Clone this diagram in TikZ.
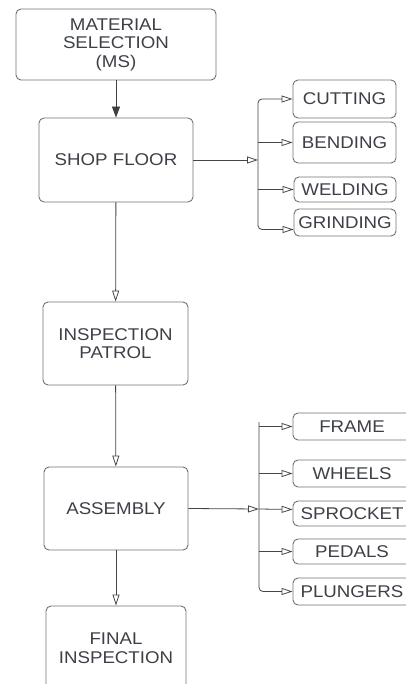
\documentclass[tikz,border=0pt]{standalone}
\usepackage{fontspec}
\setmainfont{Liberation Sans}[FakeStretch=1.1]
\usetikzlibrary{arrows.meta}
\definecolor{gris}{HTML}{707070}
\definecolor{oscuro}{HTML}{454545}
\definecolor{texto}{HTML}{3D4047}

\begin{document}
\begin{tikzpicture}[x=1pt, y=-1pt,
    caja/.style={draw=gris, rounded corners=5pt, line width=0.9pt, align=center,
        text=texto, inner sep=1pt, font=\fontsize{17}{18.5}\selectfont},
    linea/.style={draw=oscuro, line width=0.8pt},
    punta/.style={-{Triangle[open, length=11pt, width=7pt]}},
    llena/.style={-{Triangle[length=11pt, width=8pt]}}]

                \useasboundingbox (0,0) rectangle (406,684);

                % Cajas principales
                \node[caja, minimum width=200pt, minimum height=71pt] (ms) at (116,44.5) {MATERIAL\\SELECTION\\(MS)};
                \node[caja, minimum width=154pt, minimum height=84pt] (shop) at (116,160) {SHOP FLOOR};
                \node[caja, minimum width=145pt, minimum height=83pt] (patrol) at (115.5,343.5) {INSPECTION\\PATROL};
                \node[caja, minimum width=144pt, minimum height=83pt] (assembly) at (116,508.5) {ASSEMBLY};
                \node[caja, minimum width=140pt, minimum height=84pt] (final) at (116,648) {FINAL\\INSPECTION};

                % Operaciones del taller
                \node[caja, minimum width=103pt, minimum height=38pt] (cutting) at (344.5,99) {CUTTING};
                \node[caja, minimum width=103pt, minimum height=41pt] (bending) at (344.5,142.5) {BENDING};
                \node[caja, minimum width=102pt, minimum height=25pt] (welding) at (345,189.5) {WELDING};
                \node[caja, minimum width=102pt, minimum height=27pt] (grinding) at (345,222.5) {GRINDING};

                % Piezas del ensamble
                \node[caja, minimum width=118pt, minimum height=27pt] (frame) at (352,426.5) {FRAME};
                \node[caja, minimum width=118pt, minimum height=27pt] (wheels) at (352,473.5) {WHEELS};
                \node[caja, minimum width=118pt, minimum height=25pt] (sprocket) at (352,513.5) {SPROCKET};
                \node[caja, minimum width=118pt, minimum height=25pt] (pedals) at (352,551.5) {PEDALS};
                \node[caja, minimum width=118pt, minimum height=27pt] (plungers) at (352,591.5) {PLUNGERS};

                % Flujo vertical
                \draw[linea, llena, draw=black!75, fill=black!75] (ms) -- (shop);
                \draw[linea, punta] (shop) -- (patrol);
                \draw[linea, punta] (patrol) -- (assembly);
                \draw[linea, punta] (assembly) -- (final);

                % Bus del taller
                \coordinate (bus1) at (258,160);
                \draw[linea, punta] (shop.east) -- (bus1);
                \draw[linea, punta, rounded corners=4pt] (bus1) |- (cutting.west);
                \draw[linea, punta, rounded corners=4pt] (bus1) |- ([yshift=-7pt]grinding.west);
                \draw[linea, punta] (bus1 |- bending.west) -- (bending.west);
                \draw[linea, punta] (bus1 |- welding.west) -- (welding.west);

                % Bus del ensamble
                \coordinate (bus2) at (259,509);
                \coordinate (bus2top) at (259,422);
                \draw[linea, punta] (assembly.east) -- (bus2);
                \draw[linea, punta, rounded corners=4pt] (bus2top) |- (plungers.west);
                \draw[linea, punta] (bus2 |- frame.west) -- (frame.west);
                \draw[linea, punta] (bus2 |- wheels.west) -- (wheels.west);
                \draw[linea, punta] (bus2 |- pedals.west) -- (pedals.west);
                \draw[linea, punta] (bus2) -- ([yshift=4pt]sprocket.west);

            \end{tikzpicture}
\end{document}
